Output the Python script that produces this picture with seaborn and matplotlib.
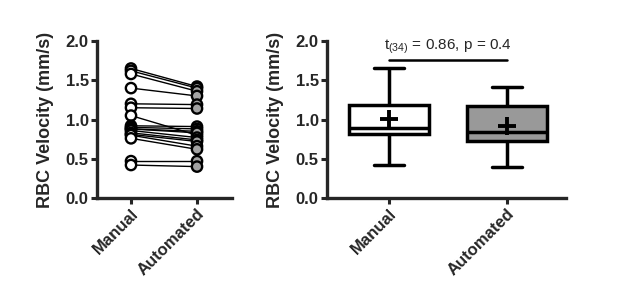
import numpy as np
import pandas as pd
import matplotlib
matplotlib.use("Agg")
import matplotlib.pyplot as plt
import seaborn as sns

sns.set_style("ticks")
plt.rcParams['font.family'] = ['Liberation Sans', 'DejaVu Sans']
plt.rcParams['font.weight'] = 'bold'

# paired RBC velocities (mm/s), same vessel in each position
methods = ['Manual', 'Automated']
manual = [1.65, 1.62, 1.58, 1.40, 1.20, 1.15, 1.05, 0.92, 0.90,
          0.88, 0.88, 0.86, 0.83, 0.81, 0.80, 0.76, 0.47, 0.42]
automated = [1.42, 1.40, 1.36, 1.30, 1.19, 1.14, 0.80, 0.91, 0.88,
             0.85, 0.83, 0.77, 0.74, 0.72, 0.66, 0.62, 0.47, 0.40]
stat_text = r'$\mathregular{t_{(34)}}$ = 0.86, p = 0.4'

n = len(manual)
df = pd.DataFrame({
    'subject': list(range(n)) * 2,
    'method': ['Manual'] * n + ['Automated'] * n,
    'pos': [0] * n + [1] * n,
    'velocity': manual + automated,
})

fig = plt.figure(figsize=(6.17, 2.94), dpi=100)
ax1 = fig.add_axes([97 / 617, 1 - 198 / 294, 135 / 617, 157 / 294])
ax2 = fig.add_axes([327 / 617, 1 - 198 / 294, 239 / 617, 157 / 294])

# left: before/after lines
sns.lineplot(data=df, x='pos', y='velocity', units='subject', estimator=None,
             color='black', lw=1.0, ax=ax1, legend=False)
sns.scatterplot(data=df, x='pos', y='velocity', hue='method',
                palette={'Manual': 'white', 'Automated': '#a3a3a3'},
                edgecolor='black', linewidth=1.7, s=55, zorder=3,
                ax=ax1, legend=False)
ax1.set_xlim(-0.515, 1.53)

# right: box and whiskers (min to max), mean as +
sns.boxplot(data=df, x='method', y='velocity', hue='method', order=methods,
            palette={'Manual': 'white', 'Automated': '#999999'},
            whis=(0, 100), width=0.68, linewidth=2.5, linecolor='black',
            showmeans=True, capwidths=0.26,
            meanprops=dict(marker='+', markersize=13, markeredgewidth=2.8,
                           markeredgecolor='black'),
            ax=ax2, legend=False)
ax2.set_xlim(-0.525, 1.5)
ax2.plot([0, 1], [1.76, 1.76], color='black', lw=1.8)
ax2.text(0.5, 1.81, stat_text, ha='center', va='bottom',
         fontsize=11, fontweight='normal')

for ax in (ax1, ax2):
    ax.set_ylim(0, 2.0)
    ax.set_yticks([0, 0.5, 1.0, 1.5, 2.0])
    ax.set_yticklabels(['0.0', '0.5', '1.0', '1.5', '2.0'])
    ax.set_xticks([0, 1])
    ax.set_xticklabels(methods, rotation=45, ha='right',
                       rotation_mode='anchor', fontweight='bold')
    ax.set_xlabel('')
    ax.set_ylabel('RBC Velocity (mm/s)', fontsize=13, fontweight='bold',
                  labelpad=8)
    ax.tick_params(width=2.2, length=4, labelsize=12, pad=2)
    for lab in ax.get_yticklabels():
        lab.set_fontweight('bold')
    sns.despine(ax=ax)
    for s in ('left', 'bottom'):
        ax.spines[s].set_linewidth(2.4)

fig.savefig('out.png', dpi=100)
